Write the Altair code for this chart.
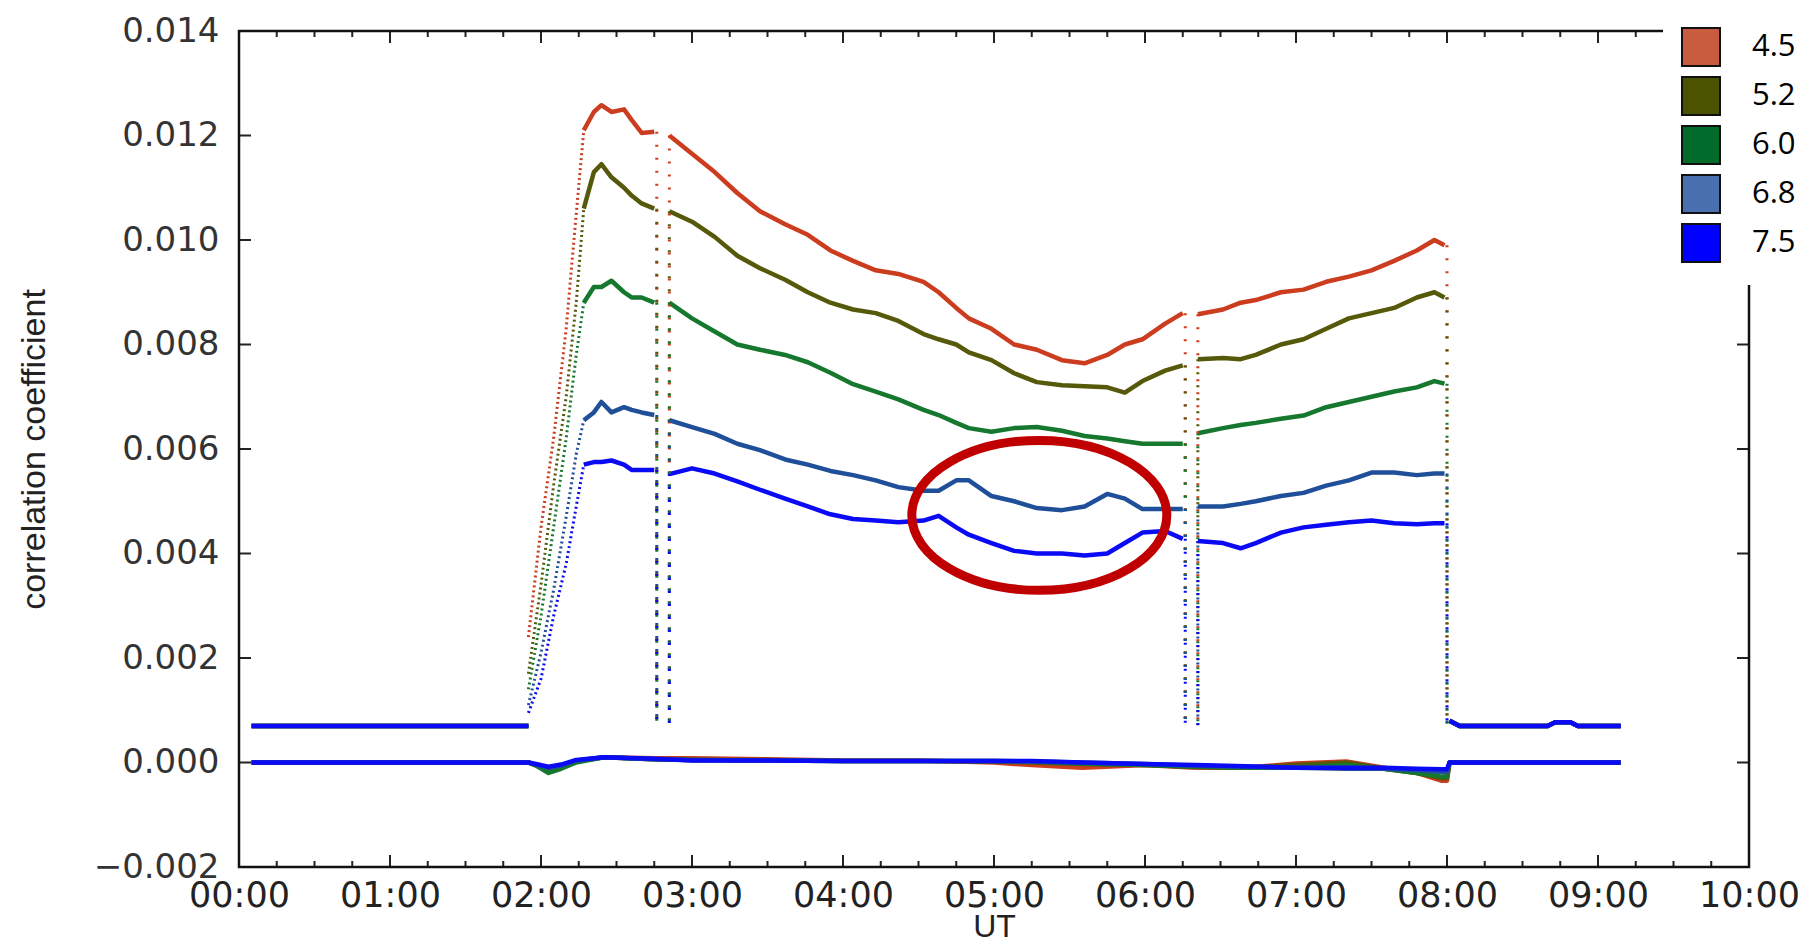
import altair as alt
import pandas as pd

DAY = "2000-01-01T"

# ---------------- data ----------------
DEPTHS = ["4.5", "5.2", "6.0", "6.8", "7.5"]
LINE_COLORS = ["#cc3d20", "#56590a", "#16782e", "#1f4f98", "#0a0af5"]
LEGEND_COLORS = ["#c95c3e", "#4b5300", "#006b2b", "#4a70b0", "#0000ff"]

BASE_LEVEL = 0.0007
BASE_LEFT_T = ["00:05", "01:55"]
BASE_LEFT_V = [0.0007, 0.0007]
BASE_RIGHT_T = ["08:01", "08:05", "08:40", "08:43", "08:49", "08:52", "09:09"]
BASE_RIGHT_V = [0.0008, 0.0007, 0.0007, 0.00077, 0.00077, 0.0007, 0.0007]

# fast rise (sparse dots in the original)
RISE_T = ["01:55", "02:00", "02:05", "02:10", "02:14", "02:17"]
RISE_V = {
    "4.5": [0.0024, 0.0045, 0.0062, 0.0083, 0.0105, 0.0121],
    "5.2": [0.0017, 0.0034, 0.0053, 0.0070, 0.0088, 0.0106],
    "6.0": [0.0014, 0.0028, 0.0045, 0.0062, 0.0078, 0.0088],
    "6.8": [0.0011, 0.0021, 0.0033, 0.0047, 0.0059, 0.00655],
    "7.5": [0.00095, 0.0016, 0.0028, 0.0038, 0.0049, 0.0057],
}

SEG_A_T = ["02:17", "02:21", "02:24", "02:28", "02:33", "02:36", "02:40", "02:45"]
SEG_A_V = {
    "4.5": [0.0121, 0.01245, 0.01258, 0.01245, 0.0125, 0.0123, 0.01205, 0.01207],
    "5.2": [0.0106, 0.0113, 0.01145, 0.0112, 0.0110, 0.01085, 0.0107, 0.0106],
    "6.0": [0.0088, 0.0091, 0.0091, 0.00922, 0.0090, 0.0089, 0.0089, 0.0088],
    "6.8": [0.00655, 0.0067, 0.0069, 0.0067, 0.0068, 0.00675, 0.0067, 0.00665],
    "7.5": [0.0057, 0.00575, 0.00575, 0.00578, 0.0057, 0.0056, 0.0056, 0.0056],
}

SEG_B_T = ["02:51", "03:00", "03:09", "03:18", "03:27", "03:37", "03:46", "03:55",
           "04:04", "04:13", "04:22", "04:32", "04:38", "04:45", "04:50", "04:59",
           "05:08", "05:17", "05:27", "05:36", "05:45", "05:52", "05:59", "06:08", "06:15"]
SEG_B_V = {
    "4.5": [0.0120, 0.01165, 0.0113, 0.0109, 0.01055, 0.0103, 0.0101, 0.0098,
            0.0096, 0.00942, 0.00935, 0.0092, 0.0090, 0.0087, 0.0085, 0.0083,
            0.0080, 0.0079, 0.0077, 0.00764, 0.0078, 0.0080, 0.0081, 0.0084, 0.0086],
    "5.2": [0.01055, 0.01035, 0.01006, 0.0097, 0.00946, 0.00924, 0.0090, 0.0088,
            0.00867, 0.0086, 0.00845, 0.0082, 0.0081, 0.0080, 0.00785, 0.0077,
            0.00745, 0.00728, 0.00722, 0.0072, 0.00718, 0.00708, 0.0073, 0.0075, 0.0076],
    "6.0": [0.0088, 0.0085, 0.00825, 0.0080, 0.0079, 0.0078, 0.00766, 0.00746,
            0.00724, 0.0071, 0.00695, 0.00675, 0.00665, 0.0065, 0.0064, 0.00633,
            0.0064, 0.00642, 0.00635, 0.00625, 0.0062, 0.00615, 0.0061, 0.0061, 0.0061],
    "6.8": [0.00655, 0.00642, 0.00629, 0.0061, 0.00598, 0.0058, 0.0057, 0.00558,
            0.0055, 0.0054, 0.00527, 0.0052, 0.0052, 0.0054, 0.0054, 0.0051,
            0.0050, 0.00487, 0.00483, 0.0049, 0.00514, 0.00505, 0.00485, 0.00485, 0.00485],
    "7.5": [0.00552, 0.00563, 0.00553, 0.00538, 0.00522, 0.00505, 0.0049, 0.00475,
            0.00466, 0.00463, 0.0046, 0.00463, 0.00472, 0.0045, 0.00436, 0.0042,
            0.00405, 0.0040, 0.0040, 0.00396, 0.0040, 0.0042, 0.0044, 0.00443, 0.00428],
}

SEG_C_T = ["06:21", "06:31", "06:38", "06:44", "06:54", "07:03", "07:12", "07:21",
           "07:30", "07:39", "07:48", "07:55", "07:59"]
SEG_C_V = {
    "4.5": [0.00858, 0.00867, 0.0088, 0.00885, 0.0090, 0.00905, 0.0092, 0.0093,
            0.00942, 0.0096, 0.0098, 0.0100, 0.0099],
    "5.2": [0.00772, 0.00774, 0.00772, 0.0078, 0.0080, 0.0081, 0.0083, 0.0085,
            0.0086, 0.0087, 0.0089, 0.0090, 0.0089],
    "6.0": [0.0063, 0.0064, 0.00646, 0.0065, 0.00658, 0.00664, 0.0068, 0.0069,
            0.0070, 0.0071, 0.00718, 0.0073, 0.00725],
    "6.8": [0.0049, 0.0049, 0.00495, 0.0050, 0.0051, 0.00516, 0.0053, 0.0054,
            0.00555, 0.00555, 0.0055, 0.00553, 0.00553],
    "7.5": [0.00424, 0.0042, 0.0041, 0.0042, 0.0044, 0.0045, 0.00455, 0.0046,
            0.00463, 0.00458, 0.00456, 0.00458, 0.00458],
}

# data dropouts (vertical dotted columns)
DROP_T = ["02:46", "02:51", "06:16", "06:21", "08:00"]

# near-zero trace
ZERO_T = ["00:05", "01:55", "01:58", "02:03", "02:08", "02:14", "02:25", "02:45",
          "03:00", "03:30", "04:00", "04:30", "05:00", "05:15", "05:35", "06:00",
          "06:20", "06:40", "07:00", "07:20", "07:35", "07:48", "07:58", "08:00",
          "08:01", "09:09"]
ZERO_V = {
    "4.5": [0, 0, -0.00005, -0.00012, -0.0001, 0.00003, 0.0001, 0.00008, 0.00008,
            0.00006, 0.00004, 0.00004, 0.0, -0.00005, -0.0001, -0.00005, -0.0001,
            -0.0001, -0.00002, 0.00002, -0.0001, -0.0002, -0.00035, -0.00035, 0, 0],
    "5.2": [0, 0, -0.00005, -0.00015, -0.0001, 0.00002, 0.0001, 0.00006, 0.00005,
            0.00005, 0.00003, 0.00003, 0.00002, 0.0, -0.00003, -0.00005, -0.00008,
            -0.0001, -0.00005, 0.0, -0.00012, -0.0002, -0.0003, -0.0003, 0, 0],
    "6.0": [0, 0, -0.00006, -0.0002, -0.00012, 0.0, 0.0001, 0.00006, 0.00005,
            0.00004, 0.00003, 0.00003, 0.00003, 0.00002, -0.00002, -0.00005, -0.00008,
            -0.0001, -0.0001, -0.00005, -0.00012, -0.0002, -0.00027, -0.00027, 0, 0],
    "6.8": [0, 0, -0.00004, -0.0001, -0.00006, 0.00004, 0.0001, 0.00006, 0.00005,
            0.00004, 0.00003, 0.00003, 0.00003, 0.00002, 0.0, -0.00003, -0.00006,
            -0.00008, -0.0001, -0.00012, -0.00012, -0.00015, -0.00018, -0.00018, 0, 0],
    "7.5": [0, 0, -0.00003, -0.00008, -0.00004, 0.00005, 0.0001, 0.00007, 0.00004,
            0.00004, 0.00003, 0.00003, 0.00003, 0.00003, 0.0, -0.00003, -0.00005,
            -0.00007, -0.0001, -0.0001, -0.0001, -0.00012, -0.00013, -0.00013, 0, 0],
}

# annotation ellipse (centre in data units)
ELLIPSE_T = "05:18"
ELLIPSE_V = 0.00473

X_LABEL_HOURS = list(range(0, 11))
Y_LABELS = [-0.002, 0.0, 0.002, 0.004, 0.006, 0.008, 0.010, 0.012, 0.014]

# ---------------- build tables ----------------
def rows(times, vals, depth, seg):
    return [{"t": DAY + t + ":00", "v": v, "depth": depth, "seg": seg}
            for t, v in zip(times, vals)]

main_rows, rise_rows, drop_rows = [], [], []
for d in DEPTHS:
    main_rows += rows(BASE_LEFT_T, BASE_LEFT_V, d, "base_l")
    main_rows += rows(ZERO_T, ZERO_V[d], d, "zero")
    main_rows += rows(BASE_RIGHT_T, BASE_RIGHT_V, d, "base_r")
    main_rows += rows(SEG_A_T, SEG_A_V[d], d, "a")
    main_rows += rows(SEG_B_T, SEG_B_V[d], d, "b")
    main_rows += rows(SEG_C_T, SEG_C_V[d], d, "c")
    rise_rows += rows(RISE_T, RISE_V[d], d, "rise")
    tops = [SEG_A_V[d][-1], SEG_B_V[d][0], SEG_B_V[d][-1], SEG_C_V[d][0], SEG_C_V[d][-1]]
    for t, v in zip(DROP_T, tops):
        drop_rows.append({"t": DAY + t + ":00", "v": v, "v0": BASE_LEVEL, "depth": d})

main_df = pd.DataFrame(main_rows)
rise_df = pd.DataFrame(rise_rows)
drop_df = pd.DataFrame(drop_rows)
ell_df = pd.DataFrame([{"t": DAY + ELLIPSE_T + ":00", "v": ELLIPSE_V}])
legend_df = pd.DataFrame({"Depth": DEPTHS})

W, H = 1510, 836

def dt(h, m=0):
    return alt.DateTime(year=2000, month=1, date=1, hours=h, minutes=m)

xscale = alt.Scale(domain=[dt(0), dt(10)])
yscale = alt.Scale(domain=[-0.002, 0.014], nice=False, zero=False)

xaxis = alt.Axis(values=[dt(h) for h in X_LABEL_HOURS], format="%H:%M", title="UT",
                 labelFont="DejaVu Sans", labelFontSize=35, labelColor="#222",
                 labelPadding=11, labelFlush=False, labelOverlap=False,
                 ticks=False, tickSize=0, domain=False, grid=False,
                 titleFont="Liberation Sans", titleFontSize=32, titleFontWeight="normal",
                 titleColor="#222", titleBaseline="alphabetic", titleY=69)
yaxis = alt.Axis(values=Y_LABELS, format=".3f", title="correlation coefficient",
                 labelFont="DejaVu Sans", labelFontSize=34, labelColor="#333",
                 labelPadding=20, ticks=False, tickSize=0, domain=False, grid=False,
                 titleFont="Liberation Sans", titleFontSize=34,
                 titleFontWeight="normal", titleColor="#222",
                 titleAngle=270, titleBaseline="alphabetic", titleAlign="center",
                 titleX=-195, titleY=H / 2)

X = alt.X("t:T", scale=xscale, axis=xaxis)
Y = alt.Y("v:Q", scale=yscale, axis=yaxis)
C = alt.Color("depth:N", scale=alt.Scale(domain=DEPTHS, range=LINE_COLORS), legend=None)

lines = alt.Chart(main_df).mark_line(strokeWidth=4.5, strokeJoin="round").encode(
    x=X, y=Y, color=C, detail="seg:N")
rise = alt.Chart(rise_df).mark_line(strokeWidth=3, strokeDash=[2, 3]).encode(
    x=X, y=Y, color=C, detail="seg:N")
drops = alt.Chart(drop_df).mark_rule(strokeWidth=3, strokeDash=[2, 11]).encode(
    x=X, y=Y, y2="v0:Q", color=C)

ellipse_path = "M -1 0 A 1 0.588 0 1 1 1 0 A 1 0.588 0 1 1 -1 0 Z"
ellipse = alt.Chart(ell_df).mark_point(shape=ellipse_path, size=65025, filled=False,
                                       strokeWidth=9, color="#c00000", opacity=1).encode(
    x=X, y=Y)

# inward ticks on all four sides
hour_df = pd.DataFrame({"t": [DAY + f"{h:02d}:00:00" for h in range(1, 10)]})
minor_df = pd.DataFrame({"t": [DAY + f"{h:02d}:{m:02d}:00" for h in range(0, 10) for m in (15, 30, 45)]})
ytick_df = pd.DataFrame({"v": Y_LABELS[1:-1]})

tick_style = dict(color="#222", strokeWidth=2)
tb_major = alt.Chart(hour_df).mark_rule(**tick_style).encode(x=X, y=alt.value(H), y2=alt.value(H - 12))
tt_major = alt.Chart(hour_df).mark_rule(**tick_style).encode(x=X, y=alt.value(0), y2=alt.value(12))
tb_minor = alt.Chart(minor_df).mark_rule(**tick_style).encode(x=X, y=alt.value(H), y2=alt.value(H - 6))
tt_minor = alt.Chart(minor_df).mark_rule(**tick_style).encode(x=X, y=alt.value(0), y2=alt.value(6))
tl = alt.Chart(ytick_df).mark_rule(**tick_style).encode(y=Y, x=alt.value(0), x2=alt.value(12))
tr = alt.Chart(ytick_df).mark_rule(**tick_style).encode(y=Y, x=alt.value(W), x2=alt.value(W - 12))

frame = alt.Chart(alt.Data(values=[{"a": 1}])).mark_rect(
    filled=False, color="#111", strokeWidth=2.5).encode(
    x=alt.value(0), x2=alt.value(W), y=alt.value(0), y2=alt.value(H))

legend_layer = alt.Chart(legend_df).mark_square(opacity=1).encode(
    x=alt.value(-3000), y=alt.value(-3000),
    color=alt.Color("Depth:N", scale=alt.Scale(domain=DEPTHS, range=LEGEND_COLORS),
                    legend=alt.Legend(title=None, orient="none", legendX=1424, legendY=-22,
                                      padding=18, fillColor="white", strokeColor="white",
                                      symbolType="square", symbolSize=1444,
                                      symbolStrokeColor="#111", symbolStrokeWidth=2,
                                      symbolOpacity=1, rowPadding=3, labelOffset=31,
                                      labelFont="Open Sans", labelFontSize=31,
                                      labelColor="black", zindex=2)))

chart = alt.layer(
    lines, rise, drops, ellipse,
    tb_major, tt_major, tb_minor, tt_minor, tl, tr, frame, legend_layer
).resolve_scale(color="independent").properties(
    width=W, height=H,
    autosize=alt.AutoSizeParams(type="none"),
    padding={"left": 231, "top": 23, "right": 51, "bottom": 70},
    background="white",
).configure_view(strokeWidth=0)

chart.save("out.html", embed_options={"renderer": "svg", "actions": False})
